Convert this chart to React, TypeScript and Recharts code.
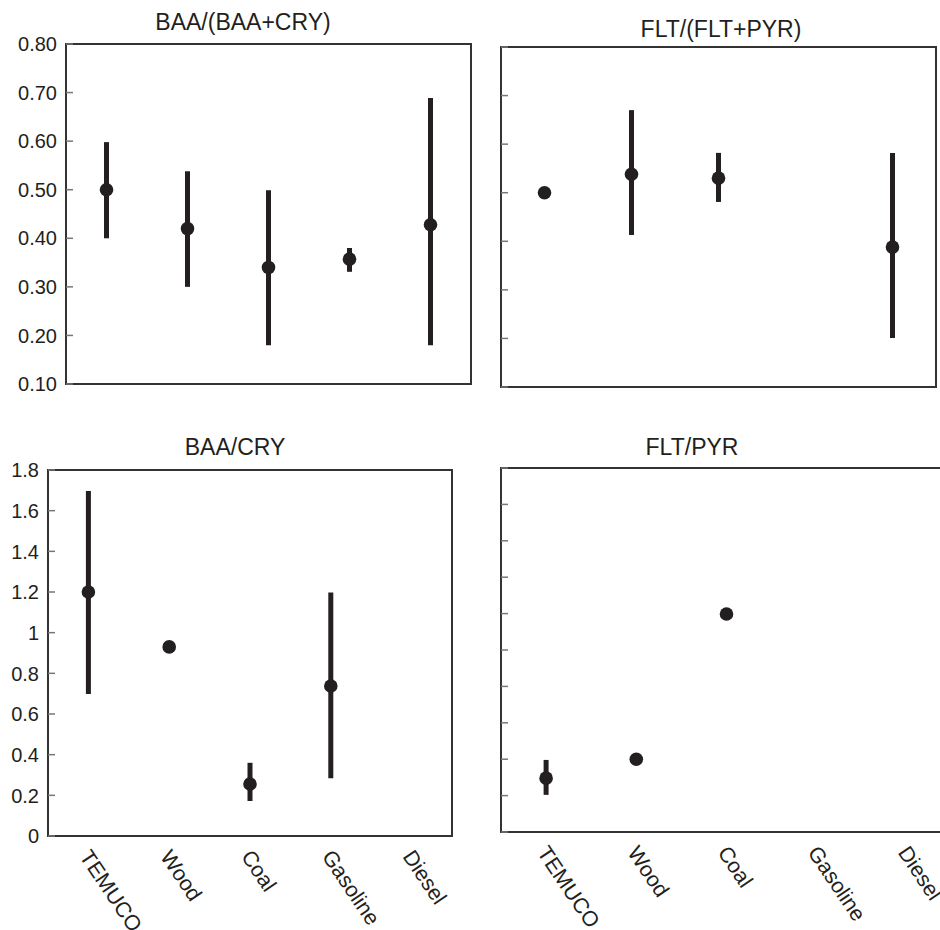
import { ScatterChart, Scatter, XAxis, YAxis, ErrorBar, ReferenceArea } from "recharts";

const categories = ["TEMUCO", "Wood", "Coal", "Gasoline", "Diesel"];
const categoryTicks = [0.5, 1.5, 2.5, 3.5, 4.5];
const boundaryTicks = [0, 1, 2, 3, 4, 5];

// BAA/(BAA+CRY)
const baaRatioMean = [0.5, 0.42, 0.34, 0.357, 0.428];
const baaRatioLow = [0.4, 0.3, 0.18, 0.331, 0.18];
const baaRatioHigh = [0.598, 0.538, 0.499, 0.38, 0.689];

// FLT/(FLT+PYR)
const fltRatioMean = [0.5, 0.538, 0.53, null, 0.388];
const fltRatioLow = [0.5, 0.413, 0.481, null, 0.201];
const fltRatioHigh = [0.5, 0.67, 0.582, null, 0.582];

// BAA/CRY
const baaCryMean = [1.2, 0.93, 0.256, 0.738, null];
const baaCryLow = [0.698, 0.93, 0.172, 0.284, null];
const baaCryHigh = [1.697, 0.93, 0.36, 1.197, null];

// FLT/PYR
const fltPyrMean = [0.148, 0.2, 0.599, null, null];
const fltPyrLow = [0.102, 0.2, 0.599, null, null];
const fltPyrHigh = [0.198, 0.2, 0.599, null, null];

const ratioTicks = [0.1, 0.2, 0.3, 0.4, 0.5, 0.6, 0.7, 0.8];
const baaCryTicks = [0, 0.2, 0.4, 0.6, 0.8, 1, 1.2, 1.4, 1.6, 1.8];
const fltPyrTicks = [0, 0.1, 0.2, 0.3, 0.4, 0.5, 0.6, 0.7, 0.8, 0.9, 1];

const FONT = '"Liberation Sans", Arial, Helvetica, sans-serif';
const INK = "#231f20";
const AXIS = "#333";
const TICK = "#777";

function buildRows(mean: (number | null)[], low: (number | null)[], high: (number | null)[]) {
  return categories
    .map((c, i) => ({
      name: c,
      x: i + 0.5,
      y: mean[i],
      err: mean[i] == null ? null : [mean[i]! - low[i]!, high[i]! - mean[i]!],
    }))
    .filter((d) => d.y != null);
}

const Dot = (p: any) => <circle cx={p.cx} cy={p.cy} r={6.8} fill={INK} />;

const CategoryTick = ({ x, y, payload }: any) => (
  <text
    transform={`translate(${x + 3},${y}) rotate(56)`}
    fontSize={21.5}
    fontFamily={FONT}
    fill={INK}
    textAnchor="start"
    dominantBaseline="hanging"
  >
    {categories[Math.floor(payload.value)]}
  </text>
);

// y tick: mark pointing into the frame, optional label outside it
const makeYTick = (format: ((v: number) => string) | null) => ({ x, y, payload }: any) => (
  <g>
    <line x1={x} x2={x + 7} y1={y} y2={y} stroke={TICK} strokeWidth={1.5} />
    {format && (
      <text x={x - 9} y={y} dy="0.36em" textAnchor="end" fontSize={20} fontFamily={FONT} fill={INK}>
        {format(payload.value)}
      </text>
    )}
  </g>
);

interface PanelProps {
  title: string;
  titleX: number;
  titleY: number;
  left: number;
  top: number;
  width: number;
  height: number;
  margin: { top: number; right: number };
  yWidth: number;
  xHeight: number;
  labels: boolean;
  domain: [number, number];
  yTicks: number[];
  yFormat: ((v: number) => string) | null;
  rows: any[];
}

function Panel(props: PanelProps) {
  const { domain } = props;
  const YTick = makeYTick(props.yFormat);
  return (
    <>
      <div
        style={{
          position: "absolute",
          left: props.titleX - 200,
          top: props.titleY - 12.7,
          width: 400,
          textAlign: "center",
          fontFamily: FONT,
          fontSize: 23,
          lineHeight: "26px",
          color: INK,
        }}
      >
        {props.title}
      </div>
      <div style={{ position: "absolute", left: props.left, top: props.top }}>
        <ScatterChart
          width={props.width}
          height={props.height}
          margin={{ top: props.margin.top, right: props.margin.right, left: 0, bottom: 0 }}
        >
          <XAxis
            type="number"
            dataKey="x"
            domain={[0, 5]}
            ticks={boundaryTicks}
            allowDataOverflow
            height={props.labels ? 1 : props.xHeight}
            tick={false}
            tickSize={7}
            axisLine={{ stroke: AXIS, strokeWidth: 2 }}
            tickLine={{ stroke: TICK, strokeWidth: 1.5 }}
          />
          {props.labels && (
            <XAxis
              xAxisId="lab"
              type="number"
              dataKey="x"
              domain={[0, 5]}
              ticks={categoryTicks}
              allowDataOverflow
              height={props.xHeight - 1}
              axisLine={false}
              tickLine={false}
              tickSize={0}
              tickMargin={11}
              tick={<CategoryTick />}
            />
          )}
          <YAxis
            type="number"
            dataKey="y"
            domain={domain}
            ticks={props.yTicks}
            interval={0}
            allowDataOverflow
            width={props.yWidth}
            tickSize={0}
            tickMargin={0}
            tickLine={false}
            tick={YTick}
            axisLine={{ stroke: AXIS, strokeWidth: 2 }}
          />
          <ReferenceArea
            x1={0}
            x2={5}
            y1={domain[0]}
            y2={domain[1]}
            fill="none"
            stroke={AXIS}
            strokeWidth={2}
            fillOpacity={0}
          />
          <Scatter data={props.rows} shape={Dot} isAnimationActive={false}>
            <ErrorBar dataKey="err" direction="y" width={0} stroke={INK} strokeWidth={5} isAnimationActive={false} />
          </Scatter>
        </ScatterChart>
      </div>
    </>
  );
}

export default function App() {
  return (
    <div
      style={{
        position: "absolute",
        left: 0,
        top: 0,
        width: 940,
        height: 930,
        overflow: "hidden",
        background: "#fff",
      }}
    >
      <Panel
        title="BAA/(BAA+CRY)"
        titleX={243}
        titleY={22}
        left={0}
        top={0}
        width={480}
        height={420}
        margin={{ top: 44, right: 9 }}
        yWidth={66}
        xHeight={36}
        labels={false}
        domain={[0.1, 0.8]}
        yTicks={ratioTicks}
        yFormat={(v) => v.toFixed(2)}
        rows={buildRows(baaRatioMean, baaRatioLow, baaRatioHigh)}
      />
      <Panel
        title="FLT/(FLT+PYR)"
        titleX={721}
        titleY={28.5}
        left={470}
        top={0}
        width={470}
        height={420}
        margin={{ top: 47, right: 4 }}
        yWidth={31}
        xHeight={33}
        labels={false}
        domain={[0.1, 0.8]}
        yTicks={ratioTicks}
        yFormat={null}
        rows={buildRows(fltRatioMean, fltRatioLow, fltRatioHigh)}
      />
      <Panel
        title="BAA/CRY"
        titleX={235}
        titleY={447}
        left={0}
        top={420}
        width={480}
        height={510}
        margin={{ top: 50, right: 28 }}
        yWidth={48}
        xHeight={94}
        labels={true}
        domain={[0, 1.8]}
        yTicks={baaCryTicks}
        yFormat={(v) => String(v)}
        rows={buildRows(baaCryMean, baaCryLow, baaCryHigh)}
      />
      <Panel
        title="FLT/PYR"
        titleX={692}
        titleY={447}
        left={470}
        top={420}
        width={490}
        height={510}
        margin={{ top: 48, right: 8 }}
        yWidth={31}
        xHeight={98}
        labels={true}
        domain={[0, 1]}
        yTicks={fltPyrTicks}
        yFormat={null}
        rows={buildRows(fltPyrMean, fltPyrLow, fltPyrHigh)}
      />
    </div>
  );
}
